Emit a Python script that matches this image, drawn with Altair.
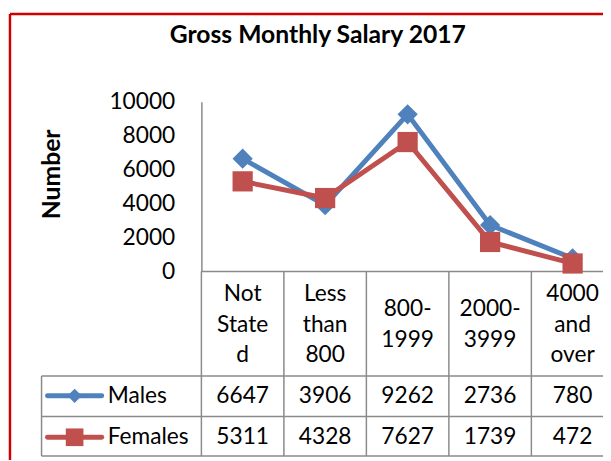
import altair as alt
import pandas as pd

# ---- data ----
categories = ["Not Stated", "Less than 800", "800-1999", "2000-3999", "4000 and over"]
header_labels = ["Not\nState\nd", "Less\nthan\n800", "800-\n1999", "2000-\n3999", "4000\nand\nover"]
series_names = ["Males", "Females"]
males = [6647, 3906, 9262, 2736, 780]
females = [5311, 4328, 7627, 1739, 472]
y_ticks = [0, 2000, 4000, 6000, 8000, 10000]
chart_title = "Gross Monthly Salary 2017"
y_title = "Number"

# ---- styles ----
series_colors = ["#4F81BD", "#C0504D"]
series_shapes = ["diamond", "square"]
GRID = "#8A8A8A"
BORDER = "#D00000"
FONT = "Lato"
FS = 23
LH = 31

rows = []
for s, vals in zip(series_names, [males, females]):
    for i, (c, v) in enumerate(zip(categories, vals)):
        rows.append({"category": c, "idx": i, "series": s, "value": v})
df = pd.DataFrame(rows)
df_cat = pd.DataFrame({
    "idx": list(range(len(categories))),
    "category": categories,
    "header": header_labels,
    "nlines": [h.count("\n") + 1 for h in header_labels],
})
df_bound = pd.DataFrame({"b": [i - 0.5 for i in range(len(categories) + 1)]})
dummy = pd.DataFrame({"d": [0]})

W, H = 407, 172
COLW = 83.6
XR = COLW * len(categories)
xscale = alt.Scale(domain=[-0.5, len(categories) - 0.5], range=[0, XR])
color = alt.Color("series:N", scale=alt.Scale(domain=series_names, range=series_colors), legend=None)
shape = alt.Shape("series:N", scale=alt.Scale(domain=series_names, range=series_shapes), legend=None)

yaxis = alt.Axis(
    values=y_ticks, format="d", ticks=False, grid=False, labelOverlap=False,
    labelBound=False, labelFlush=False,
    domainColor=GRID, domainWidth=1.5,
    labelFont=FONT, labelFontSize=FS, labelColor="black", labelPadding=27,
    title=y_title, titleFont=FONT, titleFontSize=25, titleFontWeight="bold",
    titleColor="black", titleAngle=270, titleX=-152, titleY=73,
    titleAlign="center", titleBaseline="middle",
)
yenc = alt.Y("value:Q", scale=alt.Scale(domain=[0, 10000]), axis=yaxis)

lines = alt.Chart(df).mark_line(strokeWidth=5).encode(
    x=alt.X("idx:Q", scale=xscale, axis=None), y=yenc, color=color,
    order=alt.Order("idx:Q"),
)
points = alt.Chart(df).mark_point(filled=True, opacity=1, size=420).encode(
    x=alt.X("idx:Q", scale=xscale, axis=None), y=yenc, color=color, shape=shape,
)

def hrule(y, x1, x2, col=GRID, w=1.5):
    return alt.Chart(dummy).mark_rule(color=col, strokeWidth=w).encode(
        x=alt.value(x1), x2=alt.value(x2), y=alt.value(y))

def vrule(x, y1, y2, col=GRID, w=1.5):
    return alt.Chart(dummy).mark_rule(color=col, strokeWidth=w).encode(
        x=alt.value(x), y=alt.value(y1), y2=alt.value(y2))

col_bounds = alt.Chart(df_bound).mark_rule(color=GRID, strokeWidth=1.5).encode(
    x=alt.X("b:Q", scale=xscale, axis=None), y=alt.value(H), y2=alt.value(359))

grid_layers = [
    hrule(H, 0, XR),
    hrule(278, -162, XR),
    hrule(319, -162, XR),
    hrule(359, -162, XR),
    vrule(-162, 278, 359),
]

# header cells: vertically centred block of wrapped lines
HEADER_MID = 226
header_layers = []
for n in sorted(set(df_cat["nlines"])):
    header_layers.append(
        alt.Chart(df_cat).transform_filter(alt.datum.nlines == n).mark_text(
            font=FONT, fontSize=FS, color="black", lineBreak="\n", lineHeight=LH,
            align="center", baseline="middle",
        ).encode(
            x=alt.X("idx:Q", scale=xscale, axis=None),
            y=alt.value(HEADER_MID - (n - 1) * LH / 2),
            text="header:N",
        )
    )

row_y = {"Males": 298, "Females": 340}
legend_sizes = {"Males": 210, "Females": 320}
table_layers = []
for s in series_names:
    sub = alt.Chart(df).transform_filter(alt.datum.series == s)
    table_layers.append(
        sub.mark_text(font=FONT, fontSize=FS, color="black", align="center", baseline="middle").encode(
            x=alt.X("idx:Q", scale=xscale, axis=None), y=alt.value(row_y[s]), text="value:Q"))
    leg = alt.Chart(pd.DataFrame({"series": [s]}))
    table_layers.append(
        leg.mark_rule(strokeWidth=5, strokeCap="round").encode(
            x=alt.value(-156), x2=alt.value(-101), y=alt.value(row_y[s]), color=color))
    table_layers.append(
        leg.mark_point(filled=True, opacity=1, size=legend_sizes[s]).encode(
            x=alt.value(-128.5), y=alt.value(row_y[s]), color=color, shape=shape))
    table_layers.append(
        leg.mark_text(font=FONT, fontSize=FS, color="black", align="left", baseline="middle").encode(
            x=alt.value(-95), y=alt.value(row_y[s]), text="series:N"))

title = alt.Chart(pd.DataFrame({"t": [chart_title]})).mark_text(
    font=FONT, fontSize=25, fontWeight="bold", color="black", align="center", baseline="middle",
).encode(x=alt.value(118), y=alt.value(-68), text="t:N")

border = [hrule(-89, -194, 430, BORDER, 2.5), vrule(-194, -89, 370, BORDER, 2.5)]

chart = alt.layer(
    *grid_layers, col_bounds, lines, points, *header_layers, *table_layers, title, *border
).properties(
    width=W, height=H,
    padding={"left": 196, "top": 92, "right": 0, "bottom": 188},
    autosize=alt.AutoSizeParams(type="none"),
    background="white",
).configure_view(stroke=None).configure_axisY(labelOverlap=False)

chart.save("out.html", embed_options={"renderer": "svg", "actions": False})
